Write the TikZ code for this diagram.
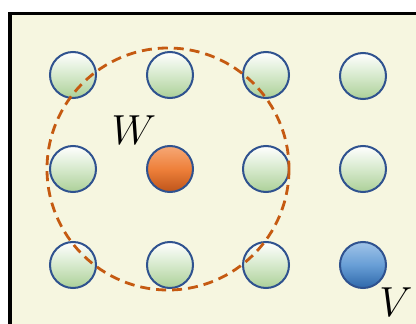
\RequirePackage{fix-cm}
\documentclass[tikz,border=0pt]{standalone}
\begin{document}
\begin{tikzpicture}[x=1pt,y=-1pt,
  ball/.style={circle,draw=ballborder,line width=2pt,minimum size=46pt,inner sep=0pt},
  greenball/.style={ball,top color=white,bottom color=greenb,middle color=greenm},
  orangeball/.style={ball,top color=orangetop,bottom color=orangebot,middle color=orangemid},
  blueball/.style={ball,top color=bluetop,bottom color=bluebot,middle color=bluemid},
  lbl/.style={font=\fontsize{42}{42}\selectfont,inner sep=0pt}]
\definecolor{cream}{RGB}{246,246,224}
\definecolor{ballborder}{RGB}{47,82,143}
\definecolor{greenb}{RGB}{172,208,152}
\definecolor{greenm}{RGB}{214,233,204}
\definecolor{orangetop}{RGB}{246,168,118}
\definecolor{orangemid}{RGB}{238,128,58}
\definecolor{orangebot}{RGB}{190,84,26}
\definecolor{bluetop}{RGB}{160,196,232}
\definecolor{bluemid}{RGB}{104,158,214}
\definecolor{bluebot}{RGB}{46,104,170}
\definecolor{dashc}{RGB}{197,90,17}
\useasboundingbox (0,0) rectangle (416,324);
\fill[cream] (10,13.5) rectangle (420,330);
\draw[black,line width=3.5pt] (10,340) -- (10,13.5) -- (420,13.5);
\foreach \c/\x in {1/73,2/170,3/266}{
  \node[greenball] (g1\c) at (\x,75) {};
  \node[greenball] (g3\c) at (\x,265) {};
}
\node[greenball] (g14) at (363,76) {};
\node[greenball] (g21) at (73,169) {};
\node[orangeball] (o22) at (170,169) {};
\node[greenball] (g23) at (266,169) {};
\node[greenball] (g24) at (363,169) {};
\node[blueball] (b34) at (363,265) {};
\draw[dashc,line width=2.8pt,dash pattern=on 10pt off 6pt] (168,169) circle[radius=121];
\node[lbl] (W) at (134,130) {$W$};
\node[lbl] (V) at (396,302) {$V$};
\end{tikzpicture}
\end{document}
